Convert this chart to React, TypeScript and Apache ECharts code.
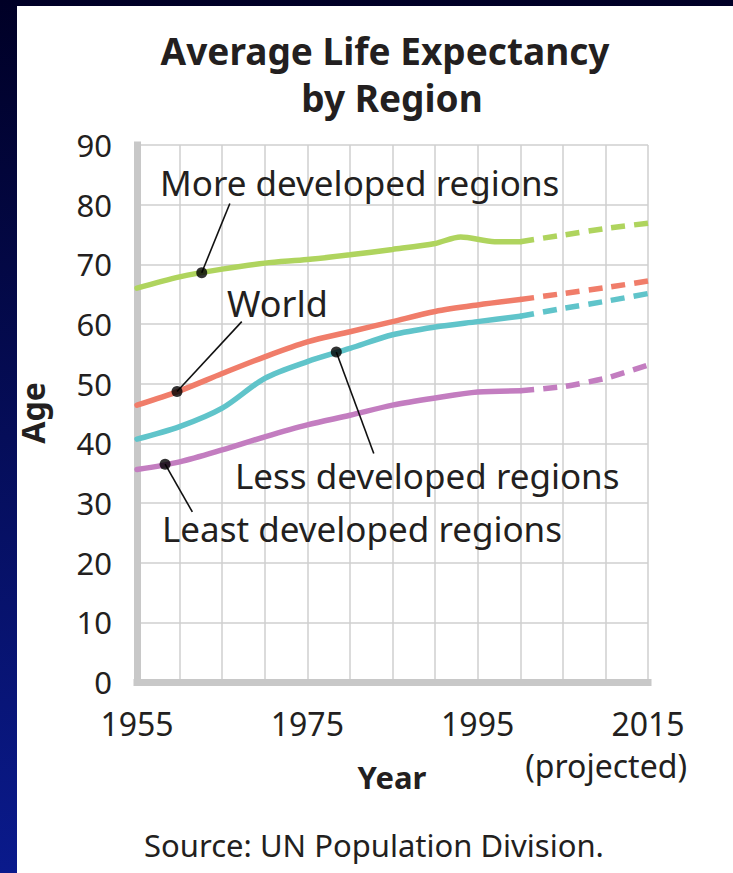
import React, { useEffect, useRef } from "react";
import * as echarts from "echarts";

// ---- Data ----
const seriesNames = ["More developed regions", "World", "Less developed regions", "Least developed regions"];

const moreYears = [1955, 1960, 1965, 1970, 1975, 1980, 1985, 1990, 1993, 1997, 2000];
const moreValues = [66.0, 67.9, 69.2, 70.2, 70.8, 71.6, 72.5, 73.5, 74.6, 73.8, 73.8];

const years = [1955, 1960, 1965, 1970, 1975, 1980, 1985, 1990, 1995, 2000];
const worldValues = [46.4, 48.8, 51.7, 54.5, 57.0, 58.7, 60.4, 62.1, 63.2, 64.1];
const lessValues = [40.7, 42.8, 45.9, 50.9, 53.7, 55.9, 58.2, 59.5, 60.4, 61.3];
const leastValues = [35.6, 36.9, 38.9, 41.1, 43.1, 44.7, 46.4, 47.6, 48.6, 48.8];

const projYears = [2000, 2005, 2010, 2015];
const moreProj = [73.8, 74.9, 76.0, 76.9];
const worldProj = [64.1, 65.1, 66.1, 67.2];
const lessProj = [61.3, 62.6, 63.8, 65.1];
const leastProj = [48.8, 49.5, 50.9, 53.1];

const xTickLabels = [1955, 1975, 1995, 2015];

// pointer dots (on the lines) and the ends of their leader lines
const pointerDots = [
  [1962.6, 68.6],
  [1959.7, 48.7],
  [1978.4, 55.3],
  [1958.3, 36.5],
];
const pointerEnds = [
  [1965.9, 80.2],
  [1967.3, 60.4],
  [1982.8, 38.3],
  [1961.5, 28.5],
];

const colors = ["#afd45e", "#f07d6a", "#60c4ca", "#c37dc0"];

const FONT = "'Noto Sans', 'Open Sans', sans-serif";
const TXT = "#231f20";

const zip = (xs: number[], ys: number[]) => xs.map((x, i) => [x, ys[i]]);

function buildOption() {
  const solid = [
    zip(moreYears, moreValues),
    zip(years, worldValues),
    zip(years, lessValues),
    zip(years, leastValues),
  ];
  const proj = [
    zip(projYears, moreProj),
    zip(projYears, worldProj),
    zip(projYears, lessProj),
    zip(projYears, leastProj),
  ];
  const series: any[] = [];
  seriesNames.forEach((name, i) => {
    series.push({
      name,
      type: "line",
      data: solid[i],
      smooth: 0.3,
      showSymbol: false,
      silent: true,
      lineStyle: { color: colors[i], width: 5.5, cap: "round" },
      z: 3,
    });
    series.push({
      name: name + " (projected)",
      type: "line",
      data: proj[i],
      smooth: 0.2,
      showSymbol: false,
      silent: true,
      lineStyle: { color: colors[i], width: 5.5, type: [14, 9] },
      z: 3,
    });
  });
  pointerDots.forEach((d, i) => {
    series.push({
      type: "line",
      data: [d, pointerEnds[i]],
      showSymbol: false,
      silent: true,
      lineStyle: { color: "#111", width: 1.6 },
      z: 4,
    });
  });
  series.push({
    type: "scatter",
    data: pointerDots,
    symbolSize: 11,
    silent: true,
    itemStyle: { color: "#000" },
    z: 5,
  });

  const text = (t: string, x: number, y: number, size: number, opts: any = {}) => ({
    type: "text",
    x,
    y,
    rotation: opts.rotation || 0,
    silent: true,
    z: 10,
    style: {
      text: t,
      fontSize: size,
      fontFamily: FONT,
      fontWeight: opts.bold ? "bold" : "normal",
      fill: TXT,
      align: opts.align || "left",
      verticalAlign: "middle",
    },
  });

  return {
    animation: false,
    backgroundColor: "transparent",
    grid: { left: 137, right: 85, top: 145, bottom: 191 },
    xAxis: {
      type: "value",
      min: 1955,
      max: 2015,
      interval: 5,
      axisLine: { show: true, onZero: false, lineStyle: { color: "#c8c8c8", width: 7, cap: "square" } },
      axisTick: { show: false },
      splitLine: { show: true, lineStyle: { color: "#cfcfcf", width: 1.5 } },
      axisLabel: {
        margin: 25,
        fontSize: 32,
        fontFamily: FONT,
        color: TXT,
        showMinLabel: true,
        showMaxLabel: true,
        formatter: (v: number) => (xTickLabels.includes(v) ? String(v) : ""),
      },
    },
    yAxis: {
      type: "value",
      min: 0,
      max: 90,
      interval: 10,
      axisLine: { show: true, onZero: false, lineStyle: { color: "#c8c8c8", width: 7, cap: "square" } },
      axisTick: { show: false },
      splitLine: { show: true, lineStyle: { color: "#cfcfcf", width: 1.5 } },
      axisLabel: { margin: 25, fontSize: 31, fontFamily: FONT, color: TXT },
    },
    series,
    graphic: [
      text("Average Life Expectancy", 385, 50, 37, { bold: true, align: "center" }),
      text("by Region", 392, 97, 37, { bold: true, align: "center" }),
      text("More developed regions", 160, 182, 35),
      text("World", 227, 303, 36),
      text("Less developed regions", 235, 475, 35),
      text("Least developed regions", 162, 528, 35),
      text("Age", 32, 413, 32, { bold: true, align: "center", rotation: Math.PI / 2 }),
      text("Year", 392, 777, 31, { bold: true, align: "center" }),
      text("(projected)", 687, 765, 32, { align: "right" }),
      text("Source: UN Population Division.", 374, 845, 31, { align: "center" }),
    ],
  };
}

export default function App() {
  const ref = useRef<HTMLDivElement>(null);
  useEffect(() => {
    if (!ref.current) return;
    const chart = echarts.init(ref.current, null, { renderer: "svg" });
    chart.setOption(buildOption() as any);
    return () => chart.dispose();
  }, []);
  return (
    <div
      style={{
        position: "fixed",
        left: 0,
        top: 0,
        width: 733,
        height: 873,
        background: "linear-gradient(#000026, #0a1a8c)",
        overflow: "hidden",
      }}
    >
      <div style={{ position: "absolute", left: 17, top: 6, right: 0, bottom: 0, background: "#ffffff" }} />
      <div ref={ref} style={{ position: "absolute", left: 0, top: 0, width: 733, height: 873 }} />
    </div>
  );
}
